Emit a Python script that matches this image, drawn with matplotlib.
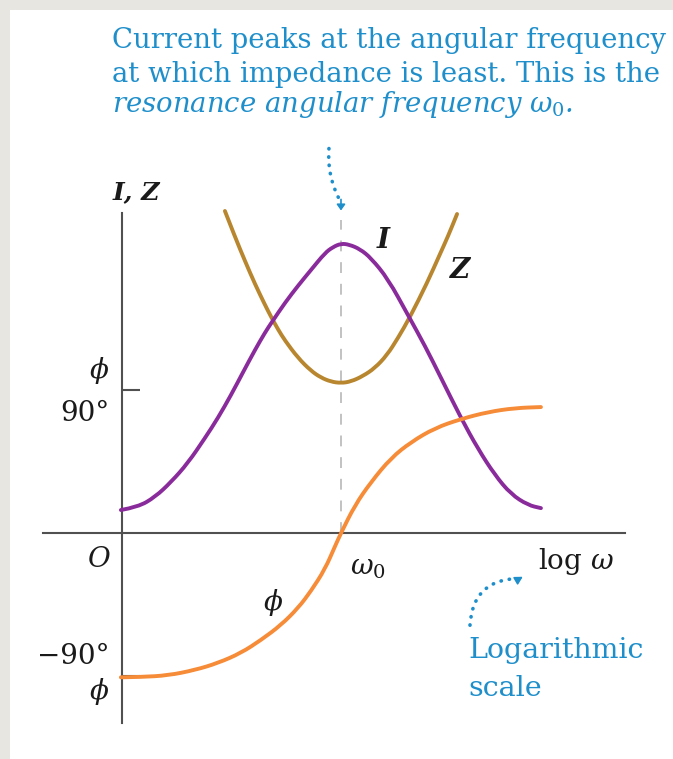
import matplotlib
matplotlib.use("Agg")
import matplotlib.pyplot as plt
from matplotlib.patches import Rectangle, PathPatch
from matplotlib.path import Path

plt.rcParams['font.family'] = ['DejaVu Serif']
plt.rcParams['mathtext.fontset'] = 'dejavuserif'

# log(omega / omega0) in decades, curves in degrees-of-phase units
i_logw = [-1.005, -0.927, -0.849, -0.776, -0.699, -0.621, -0.562, -0.502, -0.447,
          -0.393, -0.347, -0.315, -0.256, -0.196, -0.137, -0.073, -0.037, 0.0,
          0.037, 0.087, 0.137, 0.215, 0.306, 0.384, 0.457, 0.548, 0.626, 0.703,
          0.776, 0.854, 0.913]
i_vals = [14.5, 16.4, 22.7, 32.1, 44.1, 59.8, 72.4, 86.9, 101.3,
          115.2, 126.2, 132.9, 144.9, 155.7, 165.6, 176.3, 180.0, 182.2,
          181.6, 178.7, 173.1, 159.9, 137.2, 117.7, 97.6, 72.4, 52.9, 36.5,
          24.5, 17.6, 15.7]

z_logw = [-0.530, -0.484, -0.438, -0.393, -0.347, -0.320, -0.288, -0.256, -0.196,
          -0.137, -0.091, -0.046, 0.0, 0.046, 0.100, 0.155, 0.210, 0.260, 0.315,
          0.393, 0.452, 0.489, 0.530]
z_vals = [202.7, 186.4, 171.1, 156.8, 143.6, 136.3, 128.3, 121.2, 110.2,
          102.1, 97.8, 95.3, 94.4, 95.4, 98.8, 103.9, 112.0, 122.7, 135.9,
          157.4, 175.6, 186.9, 200.8]

phi_logw = [-1.005, -0.913, -0.790, -0.667, -0.562, -0.457, -0.365, -0.274, -0.196,
            -0.137, -0.073, -0.027, 0.0, 0.064, 0.137, 0.228, 0.320, 0.429,
            0.548, 0.671, 0.795, 0.913]
phi_vals = [-90.8, -90.6, -89.6, -86.2, -81.8, -75.5, -67.3, -57.9, -47.2,
            -36.5, -22.7, -8.2, 0.0, 17.6, 32.1, 47.2, 57.3, 66.1,
            71.8, 76.2, 78.7, 79.3]

phase_ticks = [90, -90]

BLUE = '#1f8fcb'
PURPLE = '#8a2b9c'
GOLD = '#b8862f'
ORANGE = '#f68b38'
AXIS = '#505050'


def smooth_curve(ax, xs, ys, color, zorder):
    # quadratic bezier pieces through the midpoints, so the line has no corners
    pts = list(zip(xs, ys))
    verts = [pts[0]]
    codes = [Path.MOVETO]
    for k in range(1, len(pts) - 1):
        mid = ((pts[k][0] + pts[k + 1][0]) / 2, (pts[k][1] + pts[k + 1][1]) / 2)
        verts += [pts[k], mid]
        codes += [Path.CURVE3, Path.CURVE3]
    verts.append(pts[-1])
    codes.append(Path.LINETO)
    patch = PathPatch(Path(verts, codes), facecolor='none', edgecolor=color,
                      lw=2.8, capstyle='round', joinstyle='round', zorder=zorder)
    ax.add_patch(patch)


fig = plt.figure(figsize=(6.73, 7.59), dpi=100)
fig.patch.set_facecolor('#e8e6e1')
fig.patches.append(Rectangle((10 / 673, 0), 1, 1 - 10 / 759, transform=fig.transFigure,
                             facecolor='white', edgecolor='none', zorder=0))

ax = fig.add_axes([0, 0, 1, 1])
ax.set_zorder(1)
ax.patch.set_visible(False)
ax.set_xlim(-1.557, 1.516)
ax.set_ylim(-142.2, 335.5)

# axes through the origin
for side in ['top', 'right']:
    ax.spines[side].set_visible(False)
ax.spines['left'].set_position(('data', -1.0))
ax.spines['bottom'].set_position(('data', 0))
ax.spines['left'].set_bounds(-119.6, 201.4)
ax.spines['bottom'].set_bounds(-1.361, 1.297)
for side in ['left', 'bottom']:
    ax.spines[side].set_color(AXIS)
    ax.spines[side].set_linewidth(1.5)
ax.set_xticks([])
ax.set_yticks(phase_ticks)
ax.set_yticklabels([])
ax.tick_params(axis='y', direction='in', length=13, width=1.5, color=AXIS)

ax.plot([0, 0], [0, 197], color='#bdbdbd', lw=1.3, ls=(0, (6, 6)), zorder=1)

smooth_curve(ax, i_logw, i_vals, PURPLE, 3)
smooth_curve(ax, z_logw, z_vals, GOLD, 2)
smooth_curve(ax, phi_logw, phi_vals, ORANGE, 3)

# annotation text
note = dict(color=BLUE, fontsize=19.8, va='baseline', ha='left')
ax.text(-1.046, 305, 'Current peaks at the angular frequency', **note)
ax.text(-1.046, 284, 'at which impedance is least. This is the', **note)
ax.text(-1.046, 265, r'resonance angular frequency $\omega_0$.', style='italic', **note)

lab = dict(fontsize=20, color='#1a1a1a')
ax.text(-1.041, 210, 'I, Z', style='italic', weight='bold', va='baseline',
        fontsize=18, color='#1a1a1a')
ax.text(0.192, 184, 'I', style='italic', weight='bold', ha='center', va='center', **lab)
ax.text(0.543, 165, 'Z', style='italic', weight='bold', ha='center', va='center', **lab)
ax.text(-1.105, 102, '\u03d5', style='italic', ha='center', va='center', **lab)
ax.text(-1.055, 75, '90°', ha='right', va='center', **lab)
ax.text(-1.105, -16.4, 'O', style='italic', ha='center', va='center', **lab)
ax.text(-1.055, -78, '\u221290°', ha='right', va='center', **lab)
ax.text(-1.105, -100, '\u03d5', style='italic', ha='center', va='center', **lab)
ax.text(-0.311, -43.4, '\u03d5', style='italic', ha='center', va='center', **lab)
ax.text(0.041, -21.4, r'$\omega_0$', ha='left', va='center', **lab)
ax.text(0.900, -17.6, r'log $\omega$', ha='left', va='center', **lab)
ax.text(0.580, -73.6, 'Logarithmic', color=BLUE, fontsize=20.5, ha='left', va='center')
ax.text(0.580, -97.6, 'scale', color=BLUE, fontsize=20.5, ha='left', va='center')

# dotted pointer arrows
dots = dict(arrowstyle='-', color=BLUE, lw=2.6, linestyle=(0, (0.1, 2.2)),
            capstyle='round', shrinkA=0, shrinkB=0)
ax.annotate('', xy=(0.0, 208), xytext=(-0.055, 242),
            arrowprops=dict(connectionstyle='arc3,rad=0.15', **dots))
ax.annotate('', xy=(0.0, 203), xytext=(0.0, 210),
            arrowprops=dict(arrowstyle='-|>,head_length=0.35,head_width=0.25',
                            color=BLUE, lw=1.2, shrinkA=0, shrinkB=0))
ax.annotate('', xy=(0.805, -28.5), xytext=(0.589, -58),
            arrowprops=dict(connectionstyle='arc3,rad=-0.45', **dots))
ax.annotate('', xy=(0.830, -27.5), xytext=(0.805, -29.5),
            arrowprops=dict(arrowstyle='-|>,head_length=0.45,head_width=0.25',
                            color=BLUE, lw=1.2, shrinkA=0, shrinkB=0))

fig.savefig('out.png', dpi=100)
